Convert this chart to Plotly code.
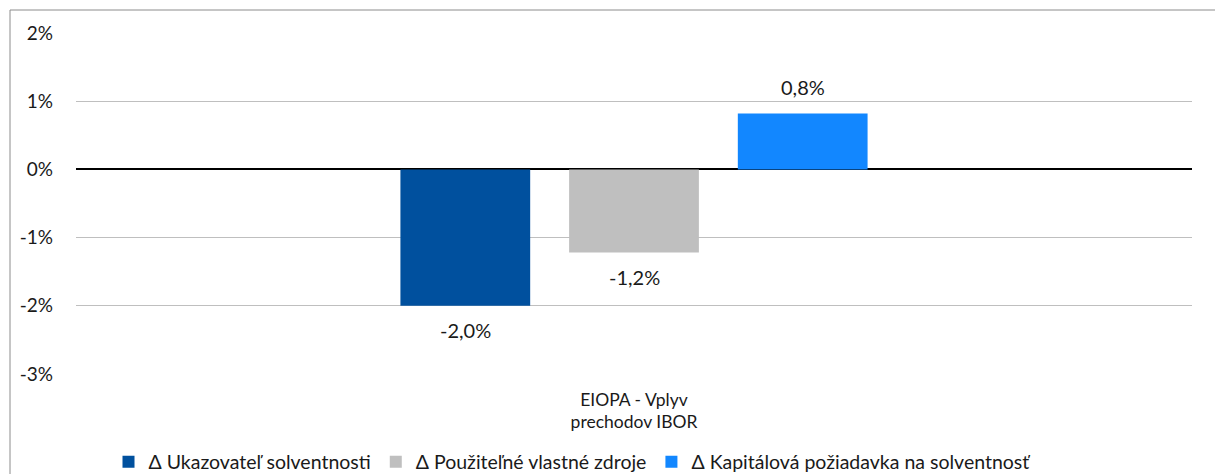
import plotly.graph_objects as go

categories = ["EIOPA - Vplyv<br>prechodov IBOR"]
series_names = [
    "Δ Ukazovateľ solventnosti",
    "Δ Použiteľné vlastné zdroje",
    "Δ Kapitálová požiadavka na solventnosť",
]
series_values = [
    [-0.020],
    [-0.0122],
    [0.0082],
]
colors = ["#00509E", "#BFBFBF", "#1287FF"]
tick_vals = [0.02, 0.01, 0.0, -0.01, -0.02, -0.03]
tick_text = ["2%", "1%", "0%", "-1%", "-2%", "-3%"]

W, H = 1215, 474
ml, mr, mt, mb = 76, 23, 33, 100
pw, ph = W - ml - mr, H - mt - mb

FONT = "Lato, Open Sans, sans-serif"
TXT = "#1a1a1a"
BARGAP, GROUPGAP = 0.5465, 0.2308

fig = go.Figure()
for name, vals, col in zip(series_names, series_values, colors):
    fig.add_trace(go.Bar(
        x=categories, y=vals, name=name, marker=dict(color=col, line=dict(width=0)),
        hoverinfo="name+y",
    ))

# data labels, placed at each bar's end through the axes
slot = (1 - BARGAP) / len(series_values)
for i, vals in enumerate(series_values):
    for j, v in enumerate(vals):
        fig.add_annotation(
            x=j + (i - (len(series_values) - 1) / 2) * slot, y=v,
            xref="x", yref="y",
            text=f"{v * 100:.1f}%".replace(".", ","),
            showarrow=False, yshift=26 if v >= 0 else -24,
            font=dict(family=FONT, size=20, color=TXT),
        )

fig.update_layout(
    width=W, height=H,
    margin=dict(l=ml, r=mr, t=mt, b=mb, autoexpand=False),
    paper_bgcolor="white", plot_bgcolor="white",
    barmode="group", bargap=BARGAP, bargroupgap=GROUPGAP,
    font=dict(family=FONT, size=19, color=TXT),
    showlegend=True,
    legend=dict(orientation="h", x=572 / W, xanchor="center", xref="container",
                y=(H - 462) / H, yanchor="middle", yref="container",
                font=dict(family=FONT, size=19.5, color=TXT),
                itemsizing="constant", tracegroupgap=0, itemwidth=30),
)
fig.update_yaxes(
    range=[-0.03, 0.02], tickvals=tick_vals, ticktext=tick_text,
    showgrid=True, gridcolor="#BFBFBF", gridwidth=1,
    zeroline=True, zerolinecolor="#000000", zerolinewidth=1.5,
    showline=False, ticks="", ticklabelstandoff=22, automargin=False,
    tickfont=dict(family=FONT, size=19, color=TXT),
)
fig.update_xaxes(
    showgrid=False, showline=False, ticks="", ticklabelstandoff=13, automargin=False,
    tickfont=dict(family=FONT, size=17.5, color=TXT),
)
# outer chart border
fig.add_shape(type="rect", xref="paper", yref="paper",
              x0=(10 - ml) / pw, x1=(W + 5 - ml) / pw,
              y0=-(H + 5 - mt - ph) / ph, y1=1 + (mt - 10) / ph,
              line=dict(color="#8C8C8C", width=1), fillcolor="rgba(0,0,0,0)", layer="below")

fig.write_html("out.html", config={"displayModeBar": False},
               post_script="document.body.style.margin='0px';")
